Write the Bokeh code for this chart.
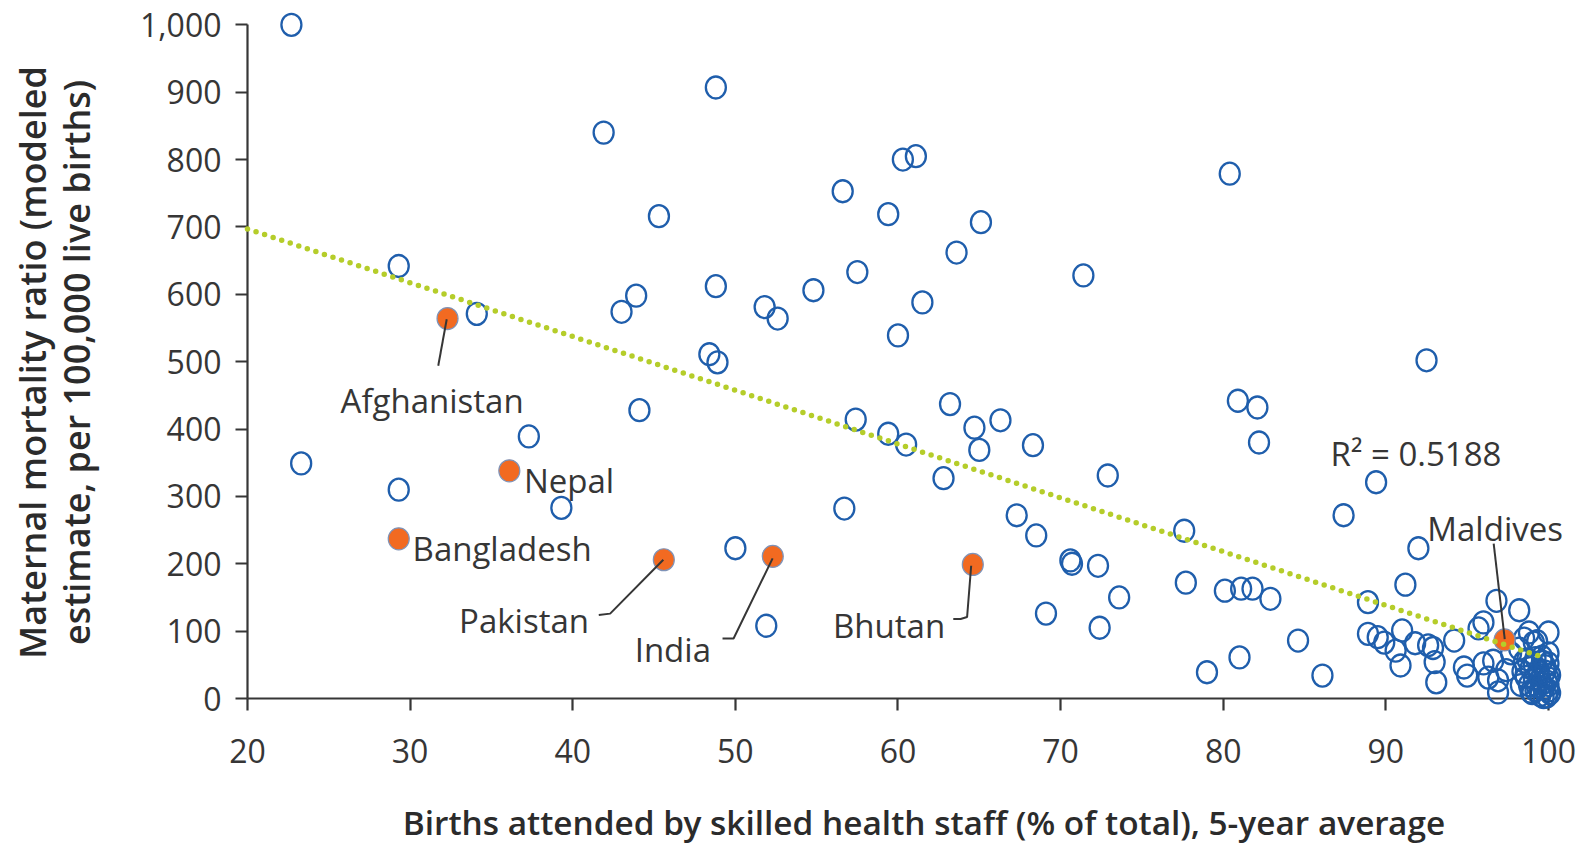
import math
from bokeh.plotting import figure
from bokeh.models import Range1d, FixedTicker, NumeralTickFormatter, Label
from bokeh.core.properties import value
from bokeh.embed import file_html
from bokeh.resources import INLINE

# ---------------- data ----------------
x_ticks = [20, 30, 40, 50, 60, 70, 80, 90, 100]
y_ticks = [0, 100, 200, 300, 400, 500, 600, 700, 800, 900, 1000]

# other countries: births attended (%) and maternal mortality ratio
other_x = [22.7, 48.8, 41.9, 60.3, 61.1, 56.6, 80.4, 45.3, 59.4, 65.1,
           63.6, 29.3, 57.5, 71.4, 48.8, 43.9, 54.8, 51.8, 61.5, 43.0,
           34.1, 52.6, 60.0, 48.4, 48.9, 92.5, 44.1, 80.9, 82.1, 63.2,
           57.4, 66.3, 64.7, 37.3, 59.4, 60.5, 68.3, 65.0, 82.2, 23.3,
           72.9, 62.8, 89.4, 29.3, 39.3, 56.7, 67.3, 87.4, 77.6, 68.5,
           92.0, 50.0, 70.6, 70.7, 72.3, 77.7, 91.2, 80.1, 81.1, 81.8,
           82.9, 73.6, 88.9, 69.1, 72.4, 51.9, 84.6, 88.9, 89.5, 89.9,
           91.0, 90.6, 90.9, 91.8, 92.6, 92.9, 93.0, 93.1, 81.0, 79.0,
           86.1, 94.2, 96.8, 98.2, 96.0, 95.7, 98.8, 100.0, 99.1, 100.0,
           94.8, 95.0, 96.0, 96.6, 96.3, 96.9, 96.9, 97.4, 97.7, 98.2,
           98.5, 98.5, 99.3,
           98.7, 99.2, 99.6, 100.0, 98.9, 99.4, 99.8, 100.1, 98.6, 99.1,
           99.5, 99.9, 98.8, 99.3, 99.7, 100.0, 99.0, 99.5, 99.9, 99.2,
           99.6, 100.0, 99.4, 99.8, 98.9, 99.7, 100.1, 99.1, 99.6, 98.4,
           98.3, 100.0]
other_y = [1000, 907, 840, 800, 805, 753, 779, 716, 719, 707,
           662, 642, 633, 628, 612, 598, 606, 581, 588, 574,
           571, 564, 539, 511, 499, 502, 428, 442, 432, 437,
           414, 413, 402, 389, 393, 377, 376, 369, 380, 349,
           331, 327, 321, 310, 283, 282, 272, 272, 249, 242,
           223, 223, 205, 200, 197, 172, 169, 160, 163, 163,
           148, 150, 143, 126, 105, 108, 86, 96, 91, 83,
           101, 71, 49, 82, 79, 75, 54, 24, 61, 39,
           34, 86, 145, 131, 113, 104, 98, 98, 83, 67,
           46, 34, 52, 56, 31, 27, 9, 42, 67, 74,
           55, 89, 85,
           58, 60, 55, 52, 45, 42, 40, 35, 32, 30,
           28, 25, 20, 18, 15, 12, 8, 5, 3, 12,
           22, 20, 35, 48, 10, 2, 8, 50, 62, 40,
           20, 30]

# highlighted South Asian countries
sa_names = ["Afghanistan", "Nepal", "Bangladesh", "Pakistan", "India", "Bhutan", "Maldives"]
sa_x = [32.3, 36.1, 29.3, 45.6, 52.3, 64.6, 97.3]
sa_y = [564, 338, 237, 206, 211, 199, 87]

# linear trend line (R^2 = 0.5188)
trend_x = [20, 99.8]
trend_y = [697, 60]
r2_text = "R\u00b2 = 0.5188"

x_title = "Births attended by skilled health staff (% of total), 5-year average"
y_title_lines = ["Maternal mortality ratio (modeled", "estimate, per 100,000 live births)"]

# ---------------- figure ----------------
BLUE = "#1f5eac"
ORANGE = "#f26a21"
GREEN = "#b5cd2a"
DARK = "#363636"
TITLE_C = "#2b2b2b"
FONT = "Open Sans"
FONT_SB = "Open Sans SemiBold"

p = figure(width=1591, height=845,
           x_range=Range1d(20, 102.645), y_range=Range1d(0, 1000.5),
           output_backend="svg", toolbar_location=None,
           min_border_left=247, min_border_right=0,
           min_border_top=24, min_border_bottom=147)
p.outline_line_color = None
p.grid.visible = False
p.background_fill_color = "white"
p.border_fill_color = "white"

for ax in (p.xaxis[0], p.yaxis[0]):
    ax.axis_line_color = DARK
    ax.axis_line_width = 2.2
    ax.major_tick_line_color = DARK
    ax.major_tick_line_width = 2.2
    ax.major_tick_out = 12
    ax.major_tick_in = 0
    ax.minor_tick_line_color = None
    ax.major_label_text_font = FONT
    ax.major_label_text_font_size = "32px"
    ax.major_label_text_color = DARK

p.xaxis.ticker = FixedTicker(ticks=x_ticks)
p.xaxis.bounds = (20, 100)
p.xaxis.major_label_standoff = 28

p.yaxis.ticker = FixedTicker(ticks=y_ticks)
p.yaxis.bounds = (0, 1000)
p.yaxis.formatter = NumeralTickFormatter(format="0,0")
p.yaxis.major_label_standoff = 14

# points (overlay level so markers at the axes are not clipped)
r1 = p.ellipse(other_x, other_y, width=20, height=22, width_units="screen", height_units="screen",
               fill_color=None, line_color=BLUE, line_width=2.3)
r2 = p.ellipse(sa_x, sa_y, width=21, height=22, width_units="screen", height_units="screen",
               fill_color=ORANGE, line_color="#7f93b8", line_width=1.2)
r1.level = "overlay"
r2.level = "overlay"

# leader lines (annotation layout)
leaders = [
    ([32.25, 31.73], [563, 494]),                              # Afghanistan
    ([45.57, 42.3, 41.6], [206, 126, 124]),                   # Pakistan
    ([52.29, 49.89, 49.21], [208, 89, 89]),                   # India
    ([64.5, 64.25, 63.85, 63.4], [197, 121, 118, 118]),        # Bhutan
    ([96.63, 97.31], [230, 88]),                               # Maldives
]
for lx, ly in leaders:
    rl = p.line(lx, ly, line_color=DARK, line_width=2)
    rl.level = "overlay"

# trend line on top
rt = p.line(trend_x, trend_y, line_color=GREEN, line_width=5.5, line_dash="0 9", line_cap="round")
rt.level = "overlay"

# country labels (annotation layout)
label_pos = {
    "Afghanistan": (31.35, 442, "center"),
    "Nepal": (37.0, 324, "left"),
    "Bangladesh": (30.15, 223, "left"),
    "Pakistan": (41.0, 116, "right"),
    "India": (48.5, 73, "right"),
    "Bhutan": (62.9, 108, "right"),
    "Maldives": (96.72, 252, "center"),
}
for name in sa_names:
    lx, ly, al = label_pos[name]
    p.add_layout(Label(x=lx, y=ly, text=name, text_font=FONT, text_font_size="33px",
                       text_color=DARK, text_align=al, text_baseline="alphabetic"))

p.add_layout(Label(x=86.6, y=364, text=r2_text, text_font=FONT, text_font_size="33px",
                   text_color=DARK, text_align="left", text_baseline="alphabetic"))

# axis titles (title layout; drawn at overlay level so they sit in the margins)
tx = p.text(x=[61.6], y=[-184], text=[x_title], text_font=value(FONT_SB),
            text_font_size="33.4px", text_color=TITLE_C, text_align="center",
            text_baseline="middle")
tx.level = "overlay"
ty = p.text(x=[6.8, 9.5], y=[498.8, 498.8], text=y_title_lines, text_font=value(FONT_SB),
            text_font_size="36px", text_color=TITLE_C, text_align="center",
            text_baseline="middle", angle=math.pi / 2)
ty.level = "overlay"

open("out.html", "w").write(file_html(p, INLINE))
